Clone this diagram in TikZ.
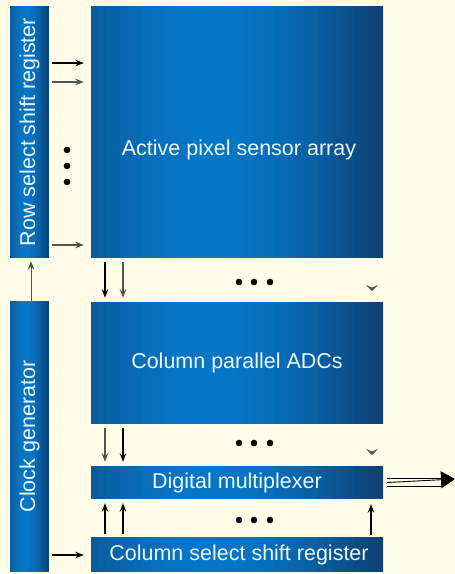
\documentclass[tikz,border=0pt]{standalone}
\usepackage{fontspec}
\setmainfont{Liberation Sans}
\usetikzlibrary{arrows.meta,calc}
\definecolor{paper}{RGB}{255,253,232}
\definecolor{bluedark}{RGB}{12,66,116}
\definecolor{bluelight}{RGB}{6,118,198}
\definecolor{labeltext}{RGB}{236,248,250}
\definecolor{greyarrow}{RGB}{85,85,80}
\begin{document}
\begin{tikzpicture}[x=1pt,y=-1pt,
    block/.style={inner sep=0pt,fill=bluedark,
      path picture={
        \foreach \i in {0,...,39}{
          \pgfmathsetmacro\p{max(0,100*cos(150*(\i/39-0.4)))}
          \fill[bluelight!\p!bluedark]
            ($(path picture bounding box.south west)!\i/40!(path picture bounding box.south east)$)
            rectangle ($(path picture bounding box.north west)!{(\i+1.3)/40}!(path picture bounding box.north east)$);
        }}},
    lbl/.style={text=labeltext,font=\fontsize{21.5}{24}\selectfont},
    sig/.style={line width=1.1pt,-{Stealth[length=8.5pt,width=6.5pt]}},
    tip/.style={fill=greyarrow}]
    \useasboundingbox (0,0) rectangle (455,574);
    \fill[paper] (0,0) rectangle (455,574);
    % blocks
    \node[block,minimum width=39pt,minimum height=252pt] (row) at (29.5,132) {};
    \node[block,minimum width=292pt,minimum height=252pt] (array) at (237,132) {};
    \node[block,minimum width=39pt,minimum height=271pt] (clock) at (29.5,436.5) {};
    \node[block,minimum width=292pt,minimum height=122pt] (adc) at (237,363) {};
    \node[block,minimum width=292pt,minimum height=33pt] (mux) at (237,482.5) {};
    \node[block,minimum width=292pt,minimum height=35pt] (colsel) at (237,554.5) {};
    % labels
    \node[lbl,rotate=90] (rowtext) at (row.center) {Row select shift register};
    \node[lbl] (arraytext) at (239,150) {Active pixel sensor array};
    \node[lbl,rotate=90] (clocktext) at (clock.center) {Clock generator};
    \node[lbl] (adctext) at (adc.center) {Column parallel ADCs};
    \node[lbl] (muxtext) at (mux.center) {Digital multiplexer};
    \node[lbl] (colseltext) at (239,554.5) {Column select shift register};
    % row lines
    \draw[sig,shorten <=3pt,shorten >=7pt] (row.east |- 0,63) -- (array.west |- 0,63);
    \draw[sig,greyarrow,shorten <=3pt,shorten >=7pt] (row.east |- 0,82) -- (array.west |- 0,82);
    \draw[sig,greyarrow,shorten <=3pt,shorten >=7pt] (row.east |- 0,245) -- (array.west |- 0,245);
    \foreach \y in {150,166,182} \fill (67,\y) circle (3.3);
    % clock lines
    \draw[sig,greyarrow,line width=0.6pt,shorten >=3pt] (clock.north -| 31,0) -- (row.south -| 31,0);
    \draw[sig,shorten <=3pt,shorten >=7pt] (clock.east |- 0,555) -- (colsel.west |- 0,555);
    % column lines
    \draw[sig,shorten <=4pt,shorten >=4pt] (array.south -| 105,0) -- (adc.north -| 105,0);
    \draw[sig,greyarrow,shorten <=4pt,shorten >=4pt] (array.south -| 123,0) -- (adc.north -| 123,0);
    \draw[sig,greyarrow,shorten <=4pt,shorten >=4pt] (adc.south -| 105,0) -- (mux.north -| 105,0);
    \draw[sig,shorten <=4pt,shorten >=4pt] (adc.south -| 123,0) -- (mux.north -| 123,0);
    \draw[sig,shorten <=3pt,shorten >=4pt] (colsel.north -| 105,0) -- (mux.south -| 105,0);
    \draw[sig,shorten <=3pt,shorten >=4pt] (colsel.north -| 123,0) -- (mux.south -| 123,0);
    \draw[sig,shorten <=2pt,shorten >=5pt] (colsel.north -| 371,0) -- (mux.south -| 371,0);
    \foreach \y in {282,443,520} \foreach \x in {239,254,270} \fill (\x,\y) circle (3.3);
    % faded column ends
    \fill[tip] (366,285) -- (372,287.5) -- (378,285) -- (372,291) -- cycle;
    \fill[tip] (366,449) -- (372,451.5) -- (378,449) -- (372,455) -- cycle;
    % output bus
    \coordinate (out) at (455,479);
    \draw[line width=0.9pt] ($(mux.east)+(4,-4)$) -- +(55,0);
    \draw[line width=0.9pt] ($(mux.east)+(4,4)$) -- +(55,0);
    \draw[line width=0.9pt,-{Triangle[length=14pt,width=17pt]}] ($(mux.east)+(4,0)$) -- (out);
\end{tikzpicture}
\end{document}
